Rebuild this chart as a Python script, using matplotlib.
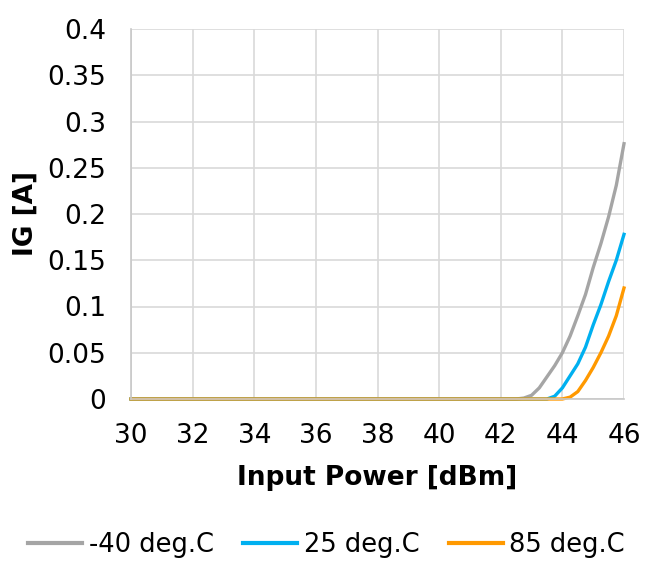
import matplotlib
matplotlib.use("Agg")
import matplotlib.pyplot as plt
from matplotlib.ticker import FuncFormatter

x = [30, 31, 32, 33, 34, 35, 36, 37, 38, 39, 40, 41, 42, 42.5,
     42.75, 43.0, 43.25, 43.5, 43.75, 44.0, 44.25, 44.5, 44.75, 45.0, 45.25, 45.5, 45.75, 46.0]
ig_m40 = [0.0, 0.0, 0.0, 0.0, 0.0, 0.0, 0.0, 0.0, 0.0, 0.0, 0.0, 0.0, 0.0, 0.0,
          0.001, 0.004, 0.012, 0.024, 0.036, 0.050, 0.068, 0.090, 0.113, 0.142, 0.168, 0.197, 0.231, 0.276]
ig_25 = [0.0, 0.0, 0.0, 0.0, 0.0, 0.0, 0.0, 0.0, 0.0, 0.0, 0.0, 0.0, 0.0, 0.0,
         0.0, 0.0, 0.0, 0.0, 0.003, 0.012, 0.025, 0.038, 0.056, 0.080, 0.102, 0.127, 0.150, 0.178]
ig_85 = [0.0, 0.0, 0.0, 0.0, 0.0, 0.0, 0.0, 0.0, 0.0, 0.0, 0.0, 0.0, 0.0, 0.0,
         0.0, 0.0, 0.0, 0.0, 0.0, 0.0, 0.002, 0.008, 0.020, 0.034, 0.050, 0.068, 0.090, 0.120]
labels = ["-40 deg.C", "25 deg.C", "85 deg.C"]
colors = ["#a5a5a5", "#00b0f0", "#ff9900"]
xticks = [30, 32, 34, 36, 38, 40, 42, 44, 46]
yticks = [0, 0.05, 0.1, 0.15, 0.2, 0.25, 0.3, 0.35, 0.4]

plt.rcParams['font.family'] = ['DejaVu Sans']
fig = plt.figure(figsize=(6.53, 5.61), dpi=100)
ax = fig.add_axes([131/653, 1-399/561, (624-131)/653, (399-29)/561])

for ys, lab, c in zip([ig_m40, ig_25, ig_85], labels, colors):
    ax.plot(x, ys, color=c, lw=2.4, label=lab, clip_on=False)

ax.set_xlim(30, 46)
ax.set_ylim(0, 0.4)
ax.set_xticks(xticks)
ax.set_yticks(yticks)
ax.yaxis.set_major_formatter(FuncFormatter(lambda v, p: ('%g' % round(v, 2))))
ax.grid(True, color='#d9d9d9', lw=1.2)
ax.set_axisbelow(True)
for s in ['top', 'right']:
    ax.spines[s].set_visible(False)
for s in ['left', 'bottom']:
    ax.spines[s].set_color('#c8c8c8')
    ax.spines[s].set_linewidth(1.2)
ax.tick_params(length=0, labelsize=19)
ax.tick_params(axis='y', pad=18)
ax.tick_params(axis='x', pad=17)
ax.set_xlabel('Input Power [dBm]', fontsize=19, fontweight='bold', labelpad=12)
ax.set_ylabel('IG [A]', fontsize=19, fontweight='bold', labelpad=6)

leg = fig.legend(loc='center', bbox_to_anchor=(0.5, 1-545/561), ncol=3, frameon=False,
                 fontsize=18.5, handlelength=2.1, handletextpad=0.25, columnspacing=1.15)
for h in leg.get_lines():
    h.set_linewidth(3.0)

fig.savefig('out.png', dpi=100)
